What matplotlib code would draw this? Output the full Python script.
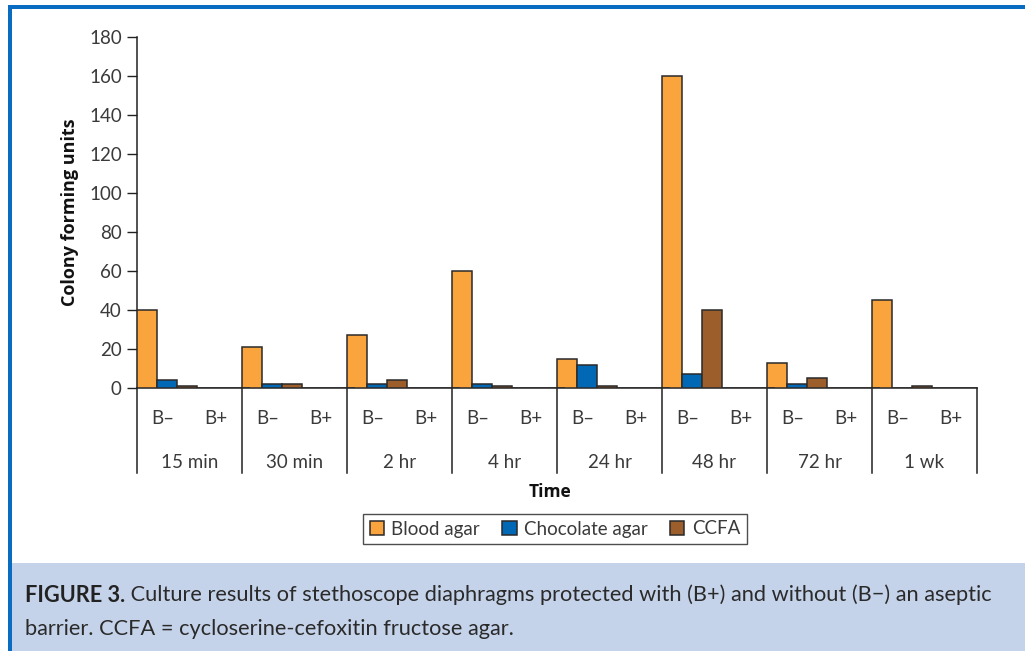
import matplotlib
matplotlib.use("Agg")
import matplotlib.pyplot as plt
from matplotlib.patches import Rectangle
from matplotlib.transforms import blended_transform_factory
import numpy as np

plt.rcParams['font.family'] = ['Lato', 'DejaVu Sans']

groups = ["15 min", "30 min", "2 hr", "4 hr", "24 hr", "48 hr", "72 hr", "1 wk"]
subs = ["B\u2013", "B+"]
series = ["Blood agar", "Chocolate agar", "CCFA"]
# values for B- in each group; B+ all zero
blood_bminus = [40, 21, 27, 60, 15, 160, 13, 45]
choc_bminus = [4, 2, 2, 2, 12, 7, 2, 0]
ccfa_bminus = [1, 2, 4, 1, 1, 40, 5, 1]
blood_bplus = [0, 0, 0, 0, 0, 0, 0, 0]
choc_bplus = [0, 0, 0, 0, 0, 0, 0, 0]
ccfa_bplus = [0, 0, 0, 0, 0, 0, 0, 0]
yticks = [0, 20, 40, 60, 80, 100, 120, 140, 160, 180]

colors = ["#F9A43C", "#0068B4", "#9C5E2B"]
edge = "#2a2a2a"
txtc = "#3a3a3a"

W, H = 1025, 651
fig = plt.figure(figsize=(W / 100, H / 100), dpi=100)
fig.patch.set_facecolor("white")

# outer frame and caption box
blue = "#0A6CC0"
fig.patches.append(Rectangle((8 / W, 0), 4 / W, 1 - 5 / H, transform=fig.transFigure,
                             facecolor=blue, edgecolor="none"))
fig.patches.append(Rectangle((8 / W, 1 - 9 / H), 1 - 8 / W, 4 / H, transform=fig.transFigure,
                             facecolor=blue, edgecolor="none"))
fig.patches.append(Rectangle((12 / W, 0), 1 - 12 / W, (H - 563) / H, transform=fig.transFigure,
                             facecolor="#C5D3EA", edgecolor="none"))

ax = fig.add_axes([137 / W, 1 - 388 / H, (977 - 137) / W, (388 - 37) / H])
ax.set_facecolor("none")

ncat = len(groups) * len(subs)
bw = 0.381
data = {
    0: (blood_bminus, blood_bplus),
    1: (choc_bminus, choc_bplus),
    2: (ccfa_bminus, ccfa_bplus),
}
for si in range(3):
    bm, bp = data[si]
    vals = []
    for g in range(len(groups)):
        vals.extend([bm[g], bp[g]])
    xs = np.arange(ncat) - 0.5 + si * bw
    ax.bar(xs, vals, width=bw, align="edge", color=colors[si], edgecolor=edge,
           linewidth=1.1, label=series[si], zorder=3)

ax.set_xlim(-0.5, ncat - 0.5)
ax.set_ylim(0, 180)
ax.set_yticks(yticks)
ax.tick_params(axis="y", direction="out", length=7, width=1, labelsize=13.5,
               colors="#222222", labelcolor=txtc, pad=4)
ax.set_xticks([])
for s in ["top", "right"]:
    ax.spines[s].set_visible(False)
ax.spines["left"].set_color("#222222")
ax.spines["bottom"].set_color("#222222")
ax.spines["left"].set_linewidth(1.1)
ax.spines["bottom"].set_linewidth(1.1)

# hierarchical category axis
tr = blended_transform_factory(ax.transData, ax.transAxes)
low = -(473 - 388) / (388 - 37)
for g in range(len(groups) + 1):
    x = 2 * g - 0.5
    ax.plot([x, x], [0, low], transform=tr, color="#222222", lw=1.1, clip_on=False)
for c in range(ncat):
    ax.text(c, -(418 - 388) / (388 - 37), subs[c % 2], transform=tr, ha="center",
            va="center", fontsize=13.5, color=txtc)
for g, name in enumerate(groups):
    ax.text(2 * g + 0.5, -(462 - 388) / (388 - 37), name, transform=tr, ha="center",
            va="center", fontsize=13.5, color=txtc)

fig.text(550 / W, 1 - 492 / H, "Time", ha="center", va="center", fontsize=12.5,
         fontweight="bold", family=["Open Sans", "DejaVu Sans"], color="#111111")
fig.text(70 / W, 1 - 212 / H, "Colony forming units", ha="center", va="center",
         rotation=90, fontsize=13, fontweight="bold", family=["Open Sans", "DejaVu Sans"],
         color="#111111")

leg = fig.legend(loc="center", bbox_to_anchor=(555 / W, 1 - 529 / H), ncol=3,
                 fontsize=13.5, frameon=True, fancybox=False, edgecolor="#222222",
                 handlelength=0.75, handleheight=0.75, handletextpad=0.4,
                 columnspacing=1.2, borderpad=0.35)
leg.get_frame().set_linewidth(1.0)
for t in leg.get_texts():
    t.set_color(txtc)

cap_fs = 15.7
t1 = fig.text(25 / W, 1 - 595 / H, "FIGURE 3.", ha="left", va="center",
              fontsize=cap_fs, fontweight="bold", color="#222222")
fig.canvas.draw()
w1 = t1.get_window_extent().width
fig.text((25 + w1) / W, 1 - 595 / H,
         " Culture results of stethoscope diaphragms protected with (B+) and without (B\u2212) an aseptic",
         ha="left", va="center", fontsize=cap_fs, color="#2a2a2a")
fig.text(25 / W, 1 - 629 / H,
         "barrier. CCFA = cycloserine-cefoxitin fructose agar.",
         ha="left", va="center", fontsize=cap_fs, color="#2a2a2a")

fig.savefig("out.png", dpi=100, facecolor="white")
